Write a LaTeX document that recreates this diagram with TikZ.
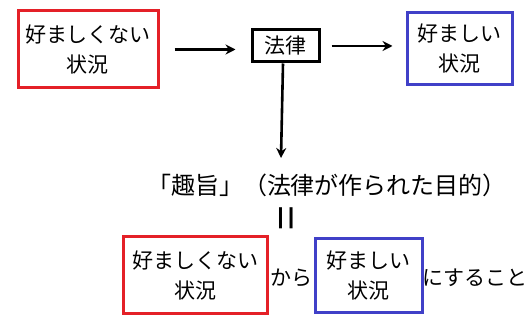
\documentclass[tikz,border=0pt]{standalone}
\usepackage{fontspec}
\setmainfont{Noto Sans CJK JP}
\usetikzlibrary{arrows.meta}
\definecolor{myred}{RGB}{228,32,40}
\definecolor{myblue}{RGB}{64,64,200}
\tikzset{
  box/.style={draw, line width=3pt, align=center, inner sep=0pt,
    font=\fontsize{21}{30}\selectfont},
  redbox/.style={box, draw=myred},
  bluebox/.style={box, draw=myblue},
  lawbox/.style={box, draw=black},
  txt/.style={inner sep=0pt, font=\fontsize{20}{30}\selectfont},
  arr/.style={-{Stealth[length=10pt,width=10pt]}, line width=2.6pt},
}
\begin{document}
\begin{tikzpicture}[x=1pt,y=-1pt]
\useasboundingbox (0,0) rectangle (531,323);
\node[redbox, minimum width=140pt, minimum height=77pt] (a) at (88,49.5) {好ましくない\\状況};
\node[lawbox, minimum width=67pt, minimum height=32pt] (law) at (285.5,46) {法律};
\node[bluebox, minimum width=105pt, minimum height=72pt] (b) at (459.5,49) {好ましい\\状況};
\draw[arr, shorten <=15pt, shorten >=15pt] (a.east) -- (a.east -| law.west);
\node[txt, font=\fontsize{24}{30}\selectfont] (cap) at (327,185) {「趣旨」（法律が作られた目的）};
\draw[arr, shorten <=11pt, shorten >=13pt] (law.east) -- (law.east -| b.west);
\coordinate (cend) at (281,158);
\draw[arr] ([xshift=-2.5pt]law.south) -- (cend);
\node[txt, rotate=90, font=\fontsize{44}{44}\selectfont] (eq) at (291,218) {=};
\node[redbox, minimum width=144pt, minimum height=77pt] (c) at (195,275.5) {好ましくない\\状況};
\node[txt, font=\fontsize{21}{30}\selectfont] (kara) at (291,278) {から};
\node[bluebox, minimum width=107pt, minimum height=74pt] (d) at (368.5,276) {好ましい\\状況};
\node[txt, font=\fontsize{21}{30}\selectfont] (koto) at (475,278) {にすること};
\end{tikzpicture}
\end{document}
